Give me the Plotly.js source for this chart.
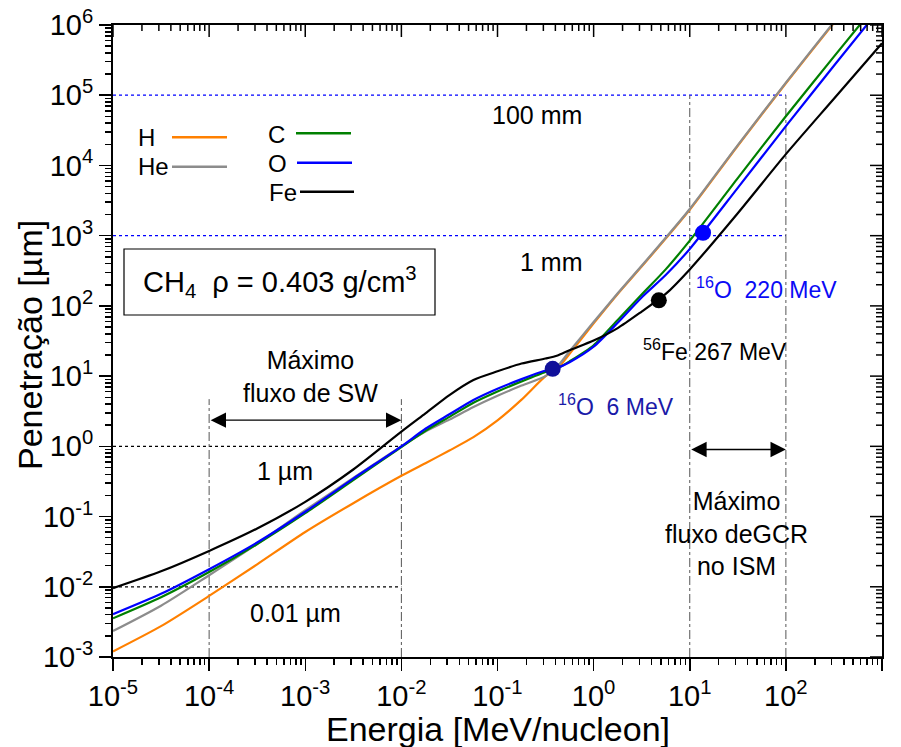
<!DOCTYPE html>
<html>
<head>
<meta charset="utf-8">
<script src="https://cdn.plot.ly/plotly-3.0.1.min.js"></script>
<style>
  html, body { margin: 0; padding: 0; background: #ffffff; }
  #grafico { width: 901px; height: 747px; }
</style>
</head>
<body>
<div id="grafico"></div>
<script>
// Energia por nucleon (MeV/nucleon), grade comum a todas as curvas
const energia = [1e-5, 3.16e-5, 1e-4, 3.16e-4, 1e-3, 3.16e-3, 0.01, 0.0178, 0.0316, 0.0562,
                 0.1, 0.178, 0.316, 0.422, 0.562, 1, 1.78, 3.16, 5.62, 10, 31.6, 100, 316, 1000];

// Penetração (µm) em CH4 sólido para cada íon
const penetracaoH  = [0.00120, 0.00275, 0.00741, 0.0209, 0.0603, 0.155, 0.380, 0.575, 0.871, 1.35,
                      2.34, 4.62, 10.0, 12.9, 20.7, 56.4, 148, 363, 912, 2340, 19100, 148000, 1.07e6, 7.76e6];
const penetracaoHe = [0.00234, 0.00537, 0.0146, 0.0407, 0.123, 0.355, 1.00, 1.62, 2.40, 3.63,
                      5.25, 7.33, 10.0, 13.8, 22.6, 58.9, 151, 372, 933, 2400, 19500, 151000, 1.10e6, 7.94e6];
const penetracaoC  = [0.00355, 0.00708, 0.0162, 0.0407, 0.112, 0.331, 0.977, 1.66, 2.63, 4.17,
                      6.03, 8.41, 11.5, 12.9, 16.2, 27.5, 63.1, 145, 331, 851, 6610, 50100, 355000, 2.45e6];
const penetracaoO  = [0.00407, 0.00794, 0.0178, 0.0427, 0.117, 0.347, 1.00, 1.78, 2.86, 4.57,
                      6.61, 9.06, 12.0, 13.2, 15.8, 26.3, 57.5, 132, 275, 646, 4790, 36300, 263000, 1.86e6];
const penetracaoFe = [0.00955, 0.0166, 0.0324, 0.0676, 0.162, 0.468, 1.62, 2.95, 5.37, 8.81,
                      11.7, 15.1, 17.8, 19.7, 23.4, 32.1, 48.3, 83.0, 148, 331, 2090, 14500, 89100, 550000];

const ions = ['H', 'He', 'C', 'O', 'Fe'];
const coresIons = ['#ff8000', '#8c8c8c', '#008000', '#0000ff', '#000000'];

// Pontos destacados: energia total (MeV), número de massa e penetração (µm)
const marcadorEnergiaTotal = [6, 220, 267];
const marcadorMassa = [16, 16, 56];
const marcadorPenetracao = [12.7, 1100, 120];
const marcadorCor = ['#10109a', '#0000ff', '#000000'];

// Marcas de referência
const penetracaoRef = [1e5, 1e3, 1, 0.01];
const penetracaoRefFim = [100, 100, 0.01, 0.01];
const corRef = ['#0000ff', '#0000ff', '#000000', '#000000'];
const energiaRef = [1e-4, 1e-2, 10, 100];
const energiaRefTopo = [4.7, 4.7, 1e5, 1e5];
const faixaSW = [1e-4, 1e-2];
const alturaSW = 2.36;
const faixaGCR = [10, 100];
const alturaGCR = 0.90;

// Rótulos das décadas
const decadasX = [1e-5, 1e-4, 1e-3, 1e-2, 1e-1, 1, 10, 100, 1000];
const rotulosX = ['10<sup>-5</sup>', '10<sup>-4</sup>', '10<sup>-3</sup>', '10<sup>-2</sup>', '10<sup>-1</sup>',
                  '10<sup>0</sup>', '10<sup>1</sup>', '10<sup>2</sup>', '10<sup>3</sup>'];
const decadasY = [1e-3, 1e-2, 1e-1, 1, 10, 100, 1e3, 1e4, 1e5, 1e6];
const rotulosY = ['10<sup>-3</sup>', '10<sup>-2</sup>', '10<sup>-1</sup>', '10<sup>0</sup>', '10<sup>1</sup>',
                  '10<sup>2</sup>', '10<sup>3</sup>', '10<sup>4</sup>', '10<sup>5</sup>', '10<sup>6</sup>'];

const FONTE = 'Liberation Sans, Arial, Helvetica, sans-serif';

// Geometria da área de plotagem (pixels)
const ML = 113, MR = 19, MT = 25, MB = 90;
const LARG = 901 - ML - MR, ALT = 747 - MT - MB;
const fx = p => (p - ML) / LARG;
const fy = p => (MT + ALT - p) / ALT;

const series = [penetracaoH, penetracaoHe, penetracaoC, penetracaoO, penetracaoFe];
const traces = series.map((valores, i) => ({
  type: 'scatter', mode: 'lines', name: ions[i],
  x: energia, y: valores,
  line: { color: coresIons[i], width: 2.2, shape: 'spline', smoothing: 0.7 },
  hoverinfo: 'skip', showlegend: false
}));

traces.push({
  type: 'scatter', mode: 'markers',
  x: marcadorEnergiaTotal.map((e, i) => e / marcadorMassa[i]),
  y: marcadorPenetracao,
  marker: { size: 16, color: marcadorCor, line: { width: 0 } },
  hoverinfo: 'skip', showlegend: false
});

const shapes = [];
penetracaoRef.forEach((v, i) => {
  shapes.push({
    type: 'line', xref: 'x', yref: 'y', layer: 'below',
    x0: decadasX[0], x1: penetracaoRefFim[i], y0: v, y1: v,
    line: { color: corRef[i], width: 1.3, dash: 'dot' }
  });
});
energiaRef.forEach((e, i) => {
  shapes.push({
    type: 'line', xref: 'x', yref: 'y', layer: 'below',
    x0: e, x1: e, y0: decadasY[0], y1: energiaRefTopo[i],
    line: { color: '#555555', width: 1, dash: 'dashdot' }
  });
});

// Marcas internas nos eixos do topo e da direita (décadas e subdivisões 2..9)
function marcasInternas(decadas, eixo) {
  for (let d = 0; d < decadas.length; d++) {
    for (let k = 1; k <= 9; k++) {
      if (d === decadas.length - 1 && k > 1) break;
      const v = decadas[d] * k;
      const comp = k === 1 ? 12 : 6;
      if (eixo === 'x') {
        shapes.push({
          type: 'line', xref: 'x', yref: 'paper', ysizemode: 'pixel', yanchor: 1,
          x0: v, x1: v, y0: 0, y1: -comp, line: { color: '#000000', width: 1.5 }
        });
      } else {
        shapes.push({
          type: 'line', yref: 'y', xref: 'paper', xsizemode: 'pixel', xanchor: 1,
          y0: v, y1: v, x0: 0, x1: -comp, line: { color: '#000000', width: 1.5 }
        });
      }
    }
  }
}
marcasInternas(decadasX, 'x');
marcasInternas(decadasY, 'y');

// Caixa com a densidade
shapes.push({
  type: 'rect', xref: 'paper', yref: 'paper',
  x0: fx(124), x1: fx(435), y0: fy(315), y1: fy(249),
  line: { color: '#000000', width: 1.2 }, fillcolor: 'rgba(0,0,0,0)'
});
// Amostras de linha da legenda
const amostras = [[172, 227, 137.3], [172, 227, 166.7], [296, 351, 133.3], [297, 352, 162.7], [300, 354, 191.7]];
amostras.forEach((a, i) => {
  shapes.push({
    type: 'line', xref: 'paper', yref: 'paper',
    x0: fx(a[0]), x1: fx(a[1]), y0: fy(a[2]), y1: fy(a[2]),
    line: { color: coresIons[i], width: 2.5 }
  });
});

function texto(t, px, py, tam, extra) {
  return Object.assign({
    xref: 'paper', yref: 'paper', x: fx(px), y: fy(py), text: t, showarrow: false,
    xanchor: 'center', yanchor: 'middle',
    font: { family: FONTE, size: tam, color: '#000000' }
  }, extra || {});
}

const annotations = [
  texto('Penetração [µm]', 30, 345, 34, { textangle: -90 }),
  texto('Energia [MeV/nucleon]', 498, 729, 34),
  texto('100 mm', 537, 115, 25),
  texto('1 mm', 551, 262, 25),
  texto('1 µm', 285, 471, 25),
  texto('0.01 µm', 295, 613, 25),
  texto('Máximo<br>fluxo de SW', 310, 376, 25),
  texto('Máximo<br>fluxo deGCR<br>no ISM', 736, 533, 25),
  texto('<sup>16</sup>O\u00a0\u00a06 MeV', 556, 405, 23, { xanchor: 'left', font: { family: FONTE, size: 23, color: '#1a1aa8' } }),
  texto('<sup>16</sup>O\u00a0\u00a0220 MeV', 694, 288, 23, { xanchor: 'left', font: { family: FONTE, size: 23, color: '#0a0af5' } }),
  texto('<sup>56</sup>Fe 267 MeV', 641, 350, 23, { xanchor: 'left' }),
  texto('CH<sub>4</sub>\u00a0\u00a0ρ = 0.403 g/cm<sup>3</sup>', 280, 282, 29),
  texto('H', 136, 138, 24, { xanchor: 'left' }),
  texto('He', 136, 167, 24, { xanchor: 'left' }),
  texto('C', 266, 134, 24, { xanchor: 'left' }),
  texto('O', 266, 163, 24, { xanchor: 'left' }),
  texto('Fe', 267, 193, 24, { xanchor: 'left' })
];

// Setas duplas das faixas de fluxo máximo
[[faixaSW, alturaSW], [faixaGCR, alturaGCR]].forEach(([faixa, altura]) => {
  annotations.push({
    xref: 'x', yref: 'y', axref: 'x', ayref: 'y',
    x: Math.log10(faixa[1]), y: Math.log10(altura),
    ax: Math.log10(faixa[0]), ay: Math.log10(altura),
    text: '', showarrow: true, arrowside: 'end+start',
    arrowhead: 2, arrowsize: 2.2, arrowwidth: 1.4, arrowcolor: '#000000',
    standoff: 0, startstandoff: 0
  });
});

const eixoComum = {
  type: 'log', showgrid: false, zeroline: false, showline: true, mirror: true,
  linecolor: '#000000', linewidth: 2, tickcolor: '#000000', tickwidth: 1.5, ticklen: 12,
  tickmode: 'array', ticks: 'outside', fixedrange: true,
  tickfont: { family: FONTE, size: 29, color: '#000000' },
  minor: { ticks: 'outside', ticklen: 6, tickwidth: 1.5, tickcolor: '#000000', dtick: 'D1', showgrid: false }
};

const layout = {
  width: 901, height: 747,
  margin: { l: ML, r: MR, t: MT, b: MB, pad: 0 },
  paper_bgcolor: '#ffffff', plot_bgcolor: '#ffffff',
  showlegend: false,
  font: { family: FONTE, color: '#000000' },
  xaxis: Object.assign({}, eixoComum, { range: [-5, 3], tickvals: decadasX, ticktext: rotulosX }),
  yaxis: Object.assign({}, eixoComum, { range: [-3, 6], tickvals: decadasY, ticktext: rotulosY }),
  shapes: shapes,
  annotations: annotations
};

Plotly.newPlot('grafico', traces, layout, { staticPlot: true, displayModeBar: false });
</script>
</body>
</html>
